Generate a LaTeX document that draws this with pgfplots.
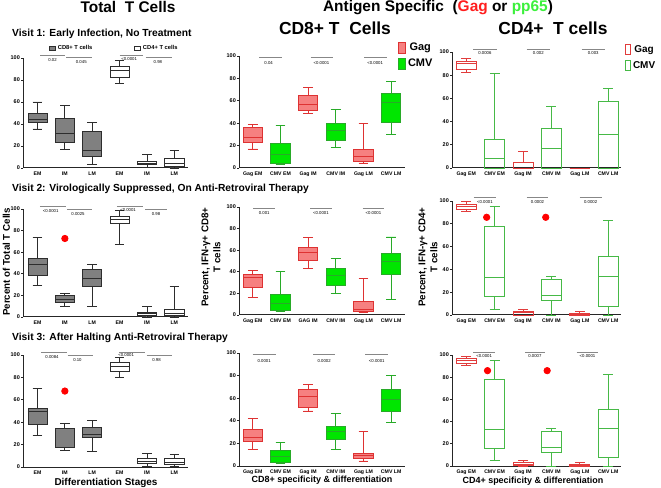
\documentclass[border=0pt]{standalone}
\usepackage{pgfplots}
\pgfplotsset{compat=1.18}
\usepgfplotslibrary{statistics}
\usepackage{fontspec}
\setmainfont{Liberation Sans}

\definecolor{cdgray}{RGB}{128,128,128}
\definecolor{edge}{RGB}{45,45,45}
\definecolor{gagfill}{RGB}{246,128,128}
\definecolor{gagline}{RGB}{222,50,50}
\definecolor{cmvfill}{RGB}{0,230,0}
\definecolor{cmvline}{RGB}{40,170,40}
\definecolor{gagopen}{RGB}{225,60,60}
\definecolor{cmvopen}{RGB}{70,185,70}
\definecolor{sigcol}{RGB}{135,135,135}
\definecolor{titlered}{RGB}{255,30,30}
\definecolor{titlegreen}{RGB}{60,240,60}

\tikzset{
  sigline/.style={draw=sigcol, line width=0.8pt},
  pvtext/.style={font=\fontsize{4.3}{4.3}\selectfont, inner sep=0pt},
}

\pgfplotsset{
  panel/.style={
    scale only axis, axis lines=left, axis line style={-, line width=1pt, black!85},
    ymin=0, ymax=100, ytick={0,20,40,60,80,100}, xtick={1,2,3,4,5,6},
    major tick length=2pt, tick align=outside,
    ytick style={line width=0.7pt, black!85}, xtick style={draw=none},
    yticklabel style={font=\fontsize{5.5}{5.5}\selectfont\bfseries, inner sep=1pt},
    xticklabel style={font=\fontsize{5.2}{6}\selectfont\bfseries, inner sep=1pt, yshift=-1pt},
    /pgf/number format/assume math mode=true,
    clip=false,
    boxplot/draw direction=y, boxplot/box extend=0.7, boxplot/whisker extend=0.35,
    every axis plot/.append style={line width=0.8pt},
  },
  col1/.style={panel, width=165bp, xmin=0.47, xmax=6.5, xticklabels={EM,IM,LM,EM,IM,LM}},
  col2/.style={panel, width=166bp, xmin=0.5, xmax=6.5},
  col3/.style={panel, width=169bp, xmin=0.5, xmax=6.45,
    xticklabels={Gag EM,CMV EM,Gag IM,CMV IM,Gag LM,CMV LM}},
  cd8box/.style={draw=edge, fill=cdgray},
  cd4box/.style={draw=edge, fill=white},
  gag/.style={draw=gagline, fill=gagfill},
  cmv/.style={draw=cmvline, fill=cmvfill},
  gago/.style={draw=gagopen},
  cmvo/.style={draw=cmvopen},
  out/.style={only marks, mark=*, mark size=3.2pt, color=red, forget plot},
}

% style, position, lower whisker, lower quartile, median, upper quartile, upper whisker
\newcommand{\bx}[7]{\addplot[#1, forget plot, boxplot prepared={draw position=#2,
  lower whisker=#3, lower quartile=#4, median=#5, upper quartile=#6, upper whisker=#7}]
  coordinates {};}
% x1, x2, line y, text x, text y, label
\newcommand{\pv}[6]{\draw[sigline] (axis cs:#1,#3) -- (axis cs:#2,#3);
  \node[pvtext] at (axis cs:#4,#5) {#6};}

\begin{document}
\begin{tikzpicture}
\useasboundingbox (0,0) rectangle (661bp,488bp);

% ---------- row 1 : visit 1 ----------
\begin{axis}[col1, height=110bp, at={(23bp,320bp)}, anchor=south west,
  legend columns=2,
  legend style={at={(0.158,1.091)}, anchor=west, draw=none, fill=none, inner sep=0pt,
    font=\fontsize{5.8}{6}\selectfont\bfseries,
    /tikz/every even column/.append style={column sep=40bp}},
  legend image code/.code={\draw (0bp,-2bp) rectangle (6bp,2bp);}]
  \bx{cd8box}{1}{35.5}{41.5}{44}{50}{60}
  \bx{cd8box}{2}{17}{23.6}{31}{45}{57}
  \bx{cd8box}{3}{3}{10.6}{16}{33}{41.5}
  \bx{cd4box}{4}{77}{82}{89}{92.4}{98}
  \bx{cd4box}{5}{0.5}{3}{4.5}{6}{12}
  \bx{cd4box}{6}{0}{1.5}{4.5}{9}{16}
  \addlegendimage{cd8box, line width=0.6pt}\addlegendentry{CD8+ T cells}
  \addlegendimage{cd4box, line width=0.6pt}\addlegendentry{CD4+ T cells}
  \pv{1.1}{2.0}{102}{1.55}{98.5}{0.02}
  \pv{2.05}{3.0}{100.6}{2.6}{96.5}{0.045}
  \pv{4.0}{4.85}{102}{4.35}{98.8}{<0.0001}
  \pv{4.95}{5.9}{100.6}{5.4}{96.5}{0.98}
\end{axis}

\begin{axis}[col2, height=112bp, at={(239bp,320bp)}, anchor=south west,
  xticklabels={Gag EM,CMV EM,Gag IM,CMV IM,Gag LM,CMV LM},
  legend style={at={(0.958,1.134)}, anchor=north west, draw=none, fill=none, inner sep=0pt,
    row sep=3bp, font=\fontsize{11}{11}\selectfont\bfseries},
  legend image code/.code={\draw (0bp,-5.5bp) rectangle (7bp,5.5bp);}]
  \bx{gag}{1}{17}{22.8}{27.6}{36.5}{38.6}
  \bx{cmv}{2}{3}{4.5}{11.9}{21.7}{37.7}
  \bx{gag}{3}{49}{51.3}{57}{65}{72}
  \bx{cmv}{4}{18.7}{24.6}{33.2}{40}{52.5}
  \bx{gag}{5}{4.5}{6}{10.4}{17}{40}
  \bx{cmv}{6}{30.3}{40.7}{58.8}{66.8}{77}
  \addlegendimage{gag}\addlegendentry{Gag}
  \addlegendimage{cmv}\addlegendentry{CMV}
  \pv{1.23}{2.04}{98.5}{1.57}{94}{0.04}
  \pv{3.09}{3.89}{98.5}{3.48}{94}{<0.0001}
  \pv{5.02}{5.84}{98.5}{5.42}{94}{<0.0001}
\end{axis}

\begin{axis}[col3, height=116bp, at={(452bp,320bp)}, anchor=south west,
  legend style={at={(1.024,1.078)}, anchor=north west, draw=none, fill=none, inner sep=0pt,
    row sep=4bp, font=\fontsize{10}{10}\selectfont\bfseries},
  legend image code/.code={\draw (0bp,-5bp) rectangle (5bp,5bp);}]
  \bx{gago}{1}{82.3}{84.9}{90}{92.3}{94.3}
  \bx{cmvo}{2}{0}{0}{8.6}{24.9}{81.4}
  \bx{gago}{3}{0}{0}{0}{5.1}{14.3}
  \bx{cmvo}{4}{0}{0}{17.1}{34.3}{52.9}
  \bx{gago}{5}{0}{0}{0}{0}{0}
  \bx{cmvo}{6}{0}{0}{29}{57.7}{68.3}
  \addlegendimage{gago}\addlegendentry{Gag}
  \addlegendimage{cmvo}\addlegendentry{CMV}
  \pv{1.25}{2.07}{102.3}{1.66}{98.9}{0.0006}
  \pv{3.13}{3.95}{102.3}{3.54}{98.9}{0.002}
  \pv{5.06}{5.88}{102.3}{5.47}{98.9}{0.003}
\end{axis}

% ---------- row 2 : visit 2 ----------
\begin{axis}[col1, height=108bp, at={(23bp,171bp)}, anchor=south west]
  \bx{cd8box}{1}{29.2}{38.2}{48.8}{54}{73.9}
  \bx{cd8box}{2}{9.9}{13.4}{16.5}{19.6}{21.7}
  \bx{cd8box}{3}{10}{28}{35.7}{44}{49}
  \bx{cd4box}{4}{66.8}{86.3}{90.7}{93}{98.4}
  \bx{cd4box}{5}{0}{1.9}{3.1}{4.7}{10}
  \bx{cd4box}{6}{0}{1.6}{3.7}{6.8}{28}
  \addplot[out] coordinates {(2,72.7)};
  \pv{1.09}{2.03}{102}{1.48}{98.4}{<0.0001}
  \pv{2.07}{2.98}{100}{2.48}{95}{0.0025}
  \pv{3.9}{4.87}{102}{4.31}{99.4}{<0.0001}
  \pv{4.93}{5.72}{100}{5.33}{95}{0.98}
\end{axis}

\begin{axis}[col2, height=108bp, at={(239bp,173bp)}, anchor=south west,
  xticklabels={Gag EM,CMV EM,GAG IM,CMV IM,Gag LM,CMV LM}]
  \bx{gag}{1}{16.3}{25.2}{34.8}{37.5}{41.5}
  \bx{cmv}{2}{3}{4.6}{10.8}{19}{40.6}
  \bx{gag}{3}{43}{50.2}{57.5}{62.5}{71.7}
  \bx{cmv}{4}{20}{27.7}{36.6}{43}{52.3}
  \bx{gag}{5}{2}{3.7}{5.5}{12.3}{33.5}
  \bx{cmv}{6}{14.5}{37.8}{49.2}{57}{72.3}
  \pv{1.02}{1.8}{98.8}{1.41}{94.2}{0.001}
  \pv{3.07}{3.85}{98.8}{3.46}{94.2}{<0.0001}
  \pv{4.97}{5.75}{98.8}{5.36}{94.2}{<0.0001}
\end{axis}

\begin{axis}[col3, height=114bp, at={(452bp,173bp)}, anchor=south west]
  \bx{gago}{1}{90.6}{92.7}{95}{97.4}{99.4}
  \bx{cmvo}{2}{5}{16}{33}{78}{95.6}
  \bx{gago}{3}{0}{0}{2}{3.5}{5.3}
  \bx{cmvo}{4}{0}{12.6}{17}{31.6}{33.6}
  \bx{gago}{5}{0}{0}{0.9}{1.5}{2.9}
  \bx{cmvo}{6}{0}{7.9}{33.6}{51.2}{82.7}
  \addplot[out] coordinates {(1.72,85.7) (3.8,85.7)};
  \pv{1.26}{2.06}{102.9}{1.66}{98.8}{<0.0001}
  \pv{3.13}{3.89}{102.9}{3.51}{98.8}{0.0002}
  \pv{4.99}{5.78}{102.9}{5.38}{98.8}{0.0002}
\end{axis}

% ---------- row 3 : visit 3 ----------
\begin{axis}[col1, height=112bp, at={(23bp,21bp)}, anchor=south west]
  \bx{cd8box}{1}{28.4}{37.9}{49.3}{52.2}{70.1}
  \bx{cd8box}{2}{14.9}{17.3}{17.9}{34.3}{38.8}
  \bx{cd8box}{3}{14}{26.3}{29.3}{35.8}{41.8}
  \bx{cd4box}{4}{80}{85}{89.6}{93.4}{97.9}
  \bx{cd4box}{5}{0.9}{3.6}{5.4}{7.5}{11.9}
  \bx{cd4box}{6}{0.6}{2.1}{4.5}{7.5}{11}
  \addplot[out] coordinates {(2,67.8)};
  \pv{1.13}{2.07}{102.4}{1.53}{98.5}{0.0084}
  \pv{2.1}{3.04}{100}{2.46}{95.5}{0.10}
  \pv{3.99}{4.93}{102.4}{4.24}{99.6}{<0.0001}
  \pv{4.99}{5.9}{100}{5.35}{95.5}{0.98}
\end{axis}

\begin{axis}[col2, height=113bp, at={(239bp,22bp)}, anchor=south west,
  xticklabels={Gag EM,CMV EM,Gag IM,CMV IM,Gag LM,CMV LM}]
  \bx{gag}{1}{14.8}{21.4}{25.2}{32.6}{42.1}
  \bx{cmv}{2}{2}{3.6}{8.6}{13.9}{20.5}
  \bx{gag}{3}{48.7}{51.9}{61.4}{67.4}{72.4}
  \bx{cmv}{4}{14.5}{23.4}{30.3}{34.7}{46.6}
  \bx{gag}{5}{4.5}{6.5}{9.5}{11}{30.3}
  \bx{cmv}{6}{38.6}{48.7}{58.5}{68}{79.8}
  \pv{0.99}{1.83}{98.8}{1.41}{93.2}{0.0001}
  \pv{3.19}{3.97}{98.8}{3.58}{93.2}{0.0002}
  \pv{5.06}{5.9}{98.8}{5.48}{93.2}{<0.0001}
\end{axis}

\begin{axis}[col3, height=111bp, at={(452bp,22bp)}, anchor=south west]
  \bx{gago}{1}{91}{92.5}{94.9}{97}{98.5}
  \bx{cmvo}{2}{5}{16}{33}{78}{95.5}
  \bx{gago}{3}{0}{0.3}{1.5}{3}{5}
  \bx{cmvo}{4}{0}{12.3}{16.8}{31.5}{34}
  \bx{gago}{5}{0}{0}{0.9}{1.5}{3}
  \bx{cmvo}{6}{0}{7.5}{34}{51.4}{82.6}
  \addplot[out] coordinates {(1.75,85.9) (3.85,85.9)};
  \pv{1.25}{2.01}{102.4}{1.63}{99.4}{<0.0001}
  \pv{3.07}{3.77}{102.4}{3.42}{99.4}{0.0007}
  \pv{4.89}{5.65}{102.4}{5.27}{99.4}{<0.0001}
\end{axis}

% ---------- titles and labels ----------
\node[anchor=base, font=\fontsize{15.5}{16}\selectfont\bfseries] at (128bp,475bp) {Total\ \ T Cells};
\node[anchor=base, font=\fontsize{15.5}{16}\selectfont\bfseries] at (438bp,476bp)
  {Antigen Specific\ \ (\textcolor{titlered}{Gag} or \textcolor{titlegreen}{pp65})};
\node[anchor=base, font=\fontsize{17.5}{18}\selectfont\bfseries] at (335bp,453bp) {CD8+ T\ \ Cells};
\node[anchor=base, font=\fontsize{17.5}{18}\selectfont\bfseries] at (553bp,453bp) {CD4+\ \ T cells};
\node[anchor=base west, font=\fontsize{10.3}{11}\selectfont\bfseries, inner sep=0pt] at (12bp,451bp)
  {Visit 1: Early Infection, No Treatment};
\node[anchor=base west, font=\fontsize{10.3}{11}\selectfont\bfseries, inner sep=0pt] at (12bp,296bp)
  {Visit 2: Virologically Suppressed, On Anti-Retroviral Therapy};
\node[anchor=base west, font=\fontsize{10.3}{11}\selectfont\bfseries, inner sep=0pt] at (12bp,147bp)
  {Visit 3: After Halting Anti-Retroviral Therapy};
\node[rotate=90, font=\fontsize{9.8}{10}\selectfont\bfseries, inner sep=0pt] at (6.5bp,226bp)
  {Percent of Total T Cells};
\node[rotate=90, align=center, font=\fontsize{9.8}{12}\selectfont\bfseries, inner sep=0pt] at (211bp,231bp)
  {Percent, IFN-γ+ CD8+\\T cells};
\node[rotate=90, align=center, font=\fontsize{9.8}{12}\selectfont\bfseries, inner sep=0pt] at (428bp,231bp)
  {Percent, IFN-γ+ CD4+\\T cells};
\node[anchor=base, font=\fontsize{10}{10}\selectfont\bfseries] at (106bp,3bp) {Differentiation Stages};
\node[anchor=base, font=\fontsize{9}{9}\selectfont\bfseries] at (322bp,6bp) {CD8+ specificity \& differentiation};
\node[anchor=base, font=\fontsize{9}{9}\selectfont\bfseries] at (533bp,5bp) {CD4+ specificity \& differentiation};
\end{tikzpicture}
\end{document}
